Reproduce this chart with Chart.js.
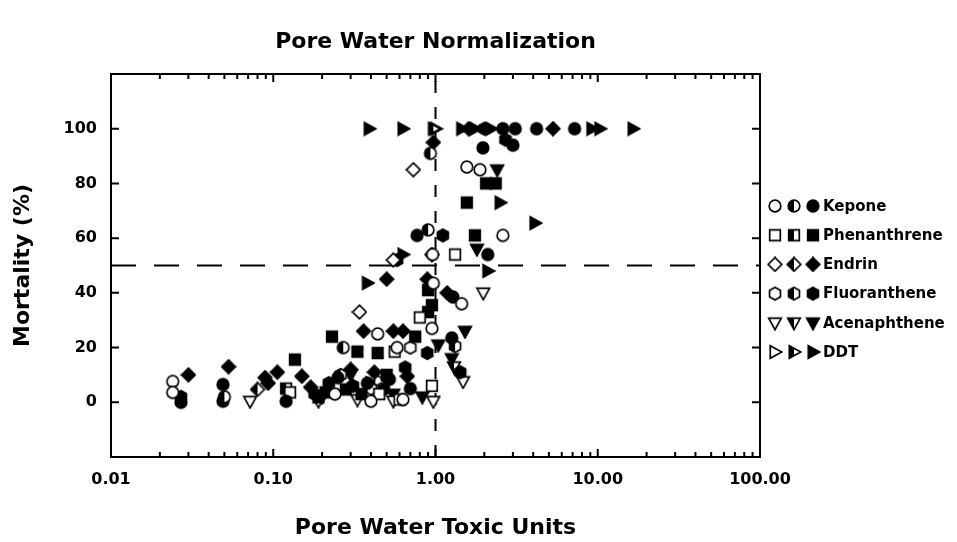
<!DOCTYPE html>
<html>
<head>
<meta charset="utf-8">
<title>Pore Water Normalization</title>
<script src="https://cdn.jsdelivr.net/npm/chart.js@4.4.0/dist/chart.umd.min.js"></script>
<style>
  html, body { margin: 0; padding: 0; background: #fff; }
</style>
</head>
<body>
<canvas id="poreChart" width="957" height="542"></canvas>
<script>
// chemicals in legend order, and their marker shape
const chemicals = ['Kepone', 'Phenanthrene', 'Endrin', 'Fluoranthene', 'Acenaphthene', 'DDT'];
const shapes = ['circle', 'square', 'diamond', 'hexagon', 'triDown', 'triRight'];
const fills = ['open', 'half', 'filled'];
const xLabelValues = [0.01, 0.1, 1, 10, 100];
const yLabelValues = [0, 20, 40, 60, 80, 100];
const xRange = [0.01, 100];
const yRange = [-20, 120];
const refToxicUnit = 1;
const refMortality = 50;

// points: [pore water toxic units, mortality %]
const keponeOpen = [[0.024,7.6],[0.024,3.6],[0.24,3],[0.4,0.4],[0.44,25],[0.97,43.5],[1.45,36],[0.95,27],[0.63,1],[1.56,86],[2.6,61],[0.96,54],[1.88,85],[0.58,20]];
const keponeHalf = [[0.05,2],[0.9,63],[0.93,91],[0.27,20]];
const keponeFilled = [[0.027,0],[0.049,6.5],[0.049,0.4],[0.12,0.4],[0.38,7],[0.77,61],[1.28,38.5],[1.96,93],[3.0,94],[4.2,100],[7.2,100],[2.1,54],[1.26,23.5],[0.52,8.4],[2.6,100],[3.1,100],[0.25,9],[0.7,5]];

const phenOpen = [[1.32,54],[0.8,31],[0.56,18.5],[0.95,6],[0.6,1],[0.127,3.6],[0.45,3]];
const phenHalf = [[0.12,5]];
const phenFilled = [[0.23,24],[0.136,15.6],[0.9,41],[0.95,35.5],[0.9,33],[0.75,24],[2.05,80],[2.35,80],[1.56,73],[1.75,61],[0.21,3.6],[0.28,4.7],[0.33,18.5],[0.44,18],[0.19,1.8],[0.5,10],[0.35,3]];

const endrinOpen = [[0.73,85],[0.34,33],[0.95,54],[0.55,52]];
const endrinHalf = [[0.08,4.7]];
const endrinFilled = [[0.03,10],[0.053,13],[0.089,9],[0.106,11],[0.15,9.5],[0.36,26],[0.55,26],[0.63,26],[0.5,45],[0.89,45],[1.18,40],[0.97,95],[5.3,100],[0.3,12],[0.17,5.5],[0.67,9.5],[0.093,7],[1.6,100],[0.42,11]];

const fluorOpen = [[0.4,5],[0.7,20]];
const fluorHalf = [[1.32,20.5],[0.26,10]];
const fluorFilled = [[0.89,18],[1.42,11],[0.65,12.7],[0.22,7],[0.48,4.7],[1.11,61],[0.58,52],[2.7,96],[0.027,2],[2.0,100],[0.31,6],[0.18,3]];

const acenOpen = [[1.97,40],[1.48,7.6],[0.97,0.4],[0.072,0.4],[0.33,1],[0.19,0.5],[0.55,0.5]];
const acenHalf = [[1.3,13]];
const acenFilled = [[1.8,56],[2.4,85],[1.52,26],[1.04,21],[1.26,16],[0.83,2],[0.3,10],[0.2,2],[0.55,3]];

const ddtOpen = [[0.45,8]];
const ddtHalf = [[0.97,100]];
const ddtFilled = [[0.39,100],[0.63,100],[1.0,100],[1.45,100],[1.75,100],[2.2,100],[9.2,100],[10.3,100],[16.5,100],[2.5,73],[4.1,65.5],[0.63,54],[2.1,48],[0.38,43.6],[0.4,7]];

const chemSeries = [
  [keponeOpen, keponeHalf, keponeFilled],
  [phenOpen, phenHalf, phenFilled],
  [endrinOpen, endrinHalf, endrinFilled],
  [fluorOpen, fluorHalf, fluorFilled],
  [acenOpen, acenHalf, acenFilled],
  [ddtOpen, ddtHalf, ddtFilled]
];

const FONT = '"DejaVu Sans", sans-serif';

function tracePath(g, shape) {
  g.beginPath();
  if (shape == 'circle') {
    g.arc(0, 0, 5.8, 0, Math.PI * 2);
  } else if (shape == 'square') {
    g.rect(-5.3, -5.3, 10.6, 10.6);
  } else if (shape == 'diamond') {
    g.moveTo(0, -6.8); g.lineTo(6.8, 0); g.lineTo(0, 6.8); g.lineTo(-6.8, 0);
  } else if (shape == 'hexagon') {
    for (let k = 0; k < 6; k++) {
      const a = Math.PI / 6 + k * Math.PI / 3;
      g.lineTo(6.3 * Math.cos(a), 6.3 * Math.sin(a));
    }
  } else if (shape == 'triDown') {
    g.moveTo(-6.3, -4.7); g.lineTo(6.3, -4.7); g.lineTo(0, 6.8);
  } else if (shape == 'triRight') {
    g.moveTo(-4.7, -6.3); g.lineTo(6.8, 0); g.lineTo(-4.7, 6.3);
  }
  g.closePath();
}

function makeMarker(shape, fill) {
  const c = document.createElement('canvas');
  c.width = 16; c.height = 16;
  const g = c.getContext('2d');
  g.translate(8, 8);
  tracePath(g, shape);
  g.fillStyle = fill == 'filled' ? '#000' : '#fff';
  g.fill();
  g.lineWidth = 1.7;
  g.strokeStyle = '#000';
  g.stroke();
  if (fill == 'half') {
    g.save();
    tracePath(g, shape);
    g.clip();
    g.fillStyle = '#000';
    g.fillRect(-8, -8, 8, 16);
    g.restore();
  }
  return c;
}

const markers = shapes.map(s => fills.map(f => makeMarker(s, f)));

const datasets = [];
chemicals.forEach((name, i) => {
  fills.forEach((f, j) => {
    datasets.push({
      label: name + ' (' + f + ')',
      data: chemSeries[i][j].map(p => ({x: p[0], y: p[1]})),
      pointStyle: markers[i][j],
      pointRadius: 6,
      pointHoverRadius: 6,
      order: 1
    });
  });
});
datasets.push({
  label: 'toxic unit = 1',
  data: [{x: refToxicUnit, y: yRange[0]}, {x: refToxicUnit, y: yRange[1]}],
  showLine: true, borderColor: '#000', borderWidth: 2, borderDash: [12, 14],
  pointRadius: 0, order: 10
});
datasets.push({
  label: '50% mortality',
  data: [{x: xRange[0], y: refMortality}, {x: xRange[1], y: refMortality}],
  showLine: true, borderColor: '#000', borderWidth: 2, borderDash: [25, 18],
  pointRadius: 0, order: 10
});

// box, inward tick marks and the side legend
const framePlugin = {
  id: 'frame',
  afterDraw(chart) {
    const ctx = chart.ctx;
    const {left, right, top, bottom} = chart.chartArea;
    const xs = chart.scales.x, ys = chart.scales.y;
    ctx.save();
    ctx.strokeStyle = '#000';
    ctx.lineWidth = 2;
    ctx.strokeRect(left, top, right - left, bottom - top);
    ctx.beginPath();
    for (let d = -2; d <= 1; d++) {
      for (let m = 1; m <= 9; m++) {
        const px = xs.getPixelForValue(m * Math.pow(10, d));
        const len = m == 1 ? 8 : 5;
        ctx.moveTo(px, bottom); ctx.lineTo(px, bottom - len);
        ctx.moveTo(px, top); ctx.lineTo(px, top + len);
      }
    }
    yLabelValues.forEach(v => {
      const py = ys.getPixelForValue(v);
      ctx.moveTo(left, py); ctx.lineTo(left + 8, py);
      ctx.moveTo(right, py); ctx.lineTo(right - 8, py);
    });
    ctx.stroke();

    ctx.fillStyle = '#000';
    ctx.font = 'bold 15px ' + FONT;
    ctx.textBaseline = 'middle';
    chemicals.forEach((name, i) => {
      const y = 206 + i * 29.2;
      markers[i].forEach((mk, j) => {
        ctx.drawImage(mk, 775 + j * 19 - 8, y - 8);
      });
      ctx.fillText(name, 823, y + 1);
    });
    ctx.restore();
  }
};

new Chart(document.getElementById('poreChart'), {
  type: 'scatter',
  data: { datasets: datasets },
  plugins: [framePlugin],
  options: {
    responsive: false,
    animation: false,
    layout: { padding: { left: 0, right: 197, top: 0, bottom: 0 } },
    plugins: {
      legend: { display: false },
      tooltip: { enabled: false },
      title: {
        display: true,
        fullSize: false,
        text: 'Pore Water Normalization',
        color: '#000',
        font: { family: FONT, size: 22, weight: 'bold' },
        padding: { top: 29, bottom: 18.6 }
      }
    },
    scales: {
      x: {
        type: 'logarithmic',
        min: xRange[0],
        max: xRange[1],
        grid: { display: false, drawTicks: false },
        border: { display: false },
        afterFit: s => { s.height = 85; },
        ticks: {
          autoSkip: false,
          maxRotation: 0,
          padding: 13,
          color: '#000',
          font: { family: FONT, size: 16, weight: 'bold' },
          callback: v => xLabelValues.some(t => Math.abs(v - t) / t < 1e-6) ? Number(v).toFixed(2) : ''
        },
        title: {
          display: true,
          text: 'Pore Water Toxic Units',
          color: '#000',
          font: { family: FONT, size: 22, weight: 'bold' },
          padding: { top: 0, bottom: 1 }
        }
      },
      y: {
        min: yRange[0],
        max: yRange[1],
        grid: { display: false, drawTicks: false },
        border: { display: false },
        afterFit: s => { s.width = 111; },
        ticks: {
          stepSize: 20,
          padding: 14,
          color: '#000',
          font: { family: FONT, size: 16, weight: 'bold' },
          callback: v => yLabelValues.includes(v) ? v : ''
        },
        title: {
          display: true,
          text: 'Mortality (%)',
          color: '#000',
          font: { family: FONT, size: 22, weight: 'bold' },
          padding: { top: 10, bottom: 0 }
        }
      }
    }
  }
});
</script>
</body>
</html>
